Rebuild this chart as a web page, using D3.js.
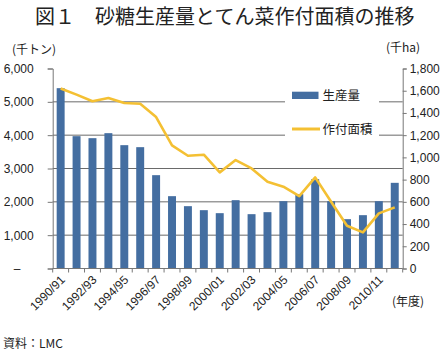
<!DOCTYPE html>
<html><head><meta charset="utf-8">
<script src="https://cdn.jsdelivr.net/npm/d3@7"></script>
<style>
body{margin:0;background:#fff;}
svg{display:block;font-family:"Liberation Sans","Noto Sans CJK JP",sans-serif;}
.jp{font-family:"Noto Sans CJK JP",sans-serif;}
</style></head>
<body>
<svg id="c" width="447" height="357"></svg>
<script>
const categories = ["1990/91","1991/92","1992/93","1993/94","1994/95","1995/96","1996/97","1997/98","1998/99","1999/00","2000/01","2001/02","2002/03","2003/04","2004/05","2005/06","2006/07","2007/08","2008/09","2009/10","2010/11","2011/12"];
const production = [5410,3970,3910,4060,3700,3640,2800,2170,1870,1750,1660,2050,1630,1690,2020,2230,2680,2020,1480,1600,2020,2570];
const area = [1620,1565,1505,1535,1490,1483,1363,1108,1015,1024,865,976,901,781,736,652,820,600,385,325,496,550];
const leftTicks = [0,1000,2000,3000,4000,5000,6000];
const rightTicks = [0,200,400,600,800,1000,1200,1400,1600,1800];
const labelCats = categories.filter((d,i)=>i%2===0);

const svg = d3.select("#c");
const L=52.7, R=402.7, T=68.5, B=268.5;
const x = d3.scaleBand().domain(categories).range([L,R]).paddingInner(0.5).paddingOuter(0.25);
const yL = d3.scaleLinear().domain([0,6000]).range([B,T]);
const yR = d3.scaleLinear().domain([0,1800]).range([B,T]);
const fmt = d3.format(",");

// title
svg.append("text").attr("class","jp").attr("x",35).attr("y",24).attr("font-size",20).attr("fill","#222")
  .text("図１　砂糖生産量とてん菜作付面積の推移");

// gridlines
svg.append("g").selectAll("line").data(leftTicks.filter(d=>d>0&&d<6000)).join("line")
  .attr("x1",L).attr("x2",R).attr("y1",d=>yL(d)).attr("y2",d=>yL(d))
  .attr("stroke","#6a6a6a").attr("stroke-width",1);

// bars
svg.append("g").selectAll("rect").data(production).join("rect")
  .attr("x",(d,i)=>x(categories[i])).attr("width",x.bandwidth())
  .attr("y",d=>yL(d)).attr("height",d=>B-yL(d)).attr("fill","#446ea1");

// line
const line = d3.line().x((d,i)=>x(categories[i])+x.bandwidth()/2).y(d=>yR(d));
svg.append("path").datum(area).attr("d",line).attr("fill","none")
  .attr("stroke","#f4c033").attr("stroke-width",2.6).attr("stroke-linejoin","round");

// left axis
const gL = svg.append("g").attr("transform",`translate(${L},0)`)
  .call(d3.axisLeft(yL).tickValues(leftTicks).tickSize(5).tickPadding(14).tickFormat(d=>d===0?"":fmt(d)));
gL.select(".domain").attr("stroke","#777");
gL.selectAll(".tick line").attr("stroke","#777");
gL.selectAll("text").attr("font-size",12).attr("fill","#222").attr("font-family","Liberation Sans");
svg.append("text").attr("x",17).attr("y",B+4).attr("text-anchor","middle").attr("font-size",12).attr("fill","#222").text("–");

// right axis
const gR = svg.append("g").attr("transform",`translate(${R},0)`)
  .call(d3.axisRight(yR).tickValues(rightTicks).tickSize(4).tickPadding(3).tickFormat(fmt));
gR.select(".domain").attr("stroke","#777");
gR.selectAll(".tick line").attr("stroke","#777");
gR.selectAll("text").attr("font-size",12).attr("fill","#222").attr("font-family","Liberation Sans");

// bottom axis
const gB = svg.append("g").attr("transform",`translate(0,${B})`);
gB.append("line").attr("x1",L).attr("x2",R).attr("y1",0).attr("y2",0).attr("stroke","#777");
const step = x.step();
const bounds = d3.range(categories.length+1).map(i=>L+(R-L)*i/categories.length);
gB.selectAll("line.t").data(bounds).join("line").attr("class","t")
  .attr("x1",d=>d).attr("x2",d=>d).attr("y1",0).attr("y2",4).attr("stroke","#777");
gB.selectAll("text.xl").data(labelCats).join("text").attr("class","xl")
  .attr("transform",d=>`translate(${x(d)+x.bandwidth()/2+5},${12}) rotate(-45)`)
  .attr("text-anchor","end").attr("font-size",12).attr("fill","#222").attr("font-family","Liberation Sans")
  .text(d=>d);

// unit labels
svg.append("text").attr("class","jp").attr("x",12).attr("y",54).attr("font-size",12).attr("fill","#222").text("(千トン)");
svg.append("text").attr("class","jp").attr("x",386).attr("y",52).attr("font-size",12).attr("fill","#222").text("(千ha)");
svg.append("text").attr("class","jp").attr("x",392).attr("y",306).attr("font-size",12).attr("fill","#222").text("(年度)");
svg.append("text").attr("class","jp").attr("x",3).attr("y",348).attr("font-size",12).attr("fill","#222").text("資料：LMC");

// legend
const lg = svg.append("g");
lg.append("rect").attr("x",285).attr("y",86).attr("width",94).attr("height",54).attr("fill","#fff");
lg.append("rect").attr("x",292).attr("y",91.7).attr("width",26.5).attr("height",7.3).attr("fill","#446ea1");
lg.append("text").attr("class","jp").attr("x",322.5).attr("y",100).attr("font-size",12.5).attr("fill","#222").text("生産量");
lg.append("line").attr("x1",292).attr("x2",320).attr("y1",129).attr("y2",129).attr("stroke","#f4c033").attr("stroke-width",3);
lg.append("text").attr("class","jp").attr("x",322.5).attr("y",133.5).attr("font-size",12.5).attr("fill","#222").text("作付面積");
</script>
</body></html>
